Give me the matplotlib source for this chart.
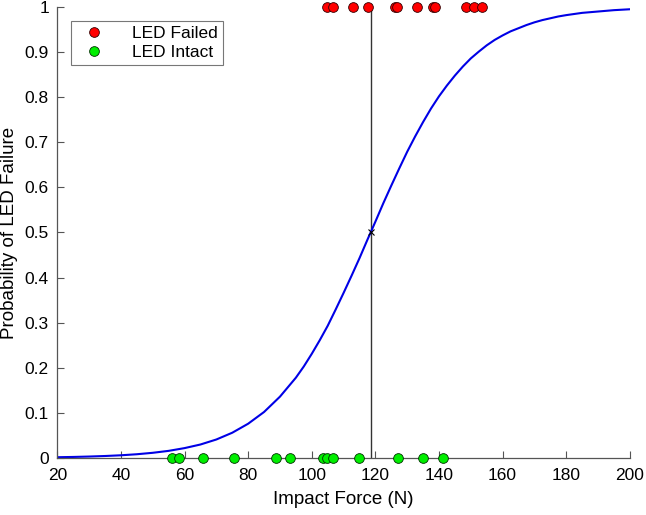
import matplotlib
matplotlib.use("Agg")
import matplotlib.pyplot as plt

# impact forces (N) of the tested LEDs
failed_force = [104.7, 106.8, 113.1, 117.8, 126.2, 126.9, 133.0, 138.0, 138.7, 148.5, 151.0, 153.5]
intact_force = [56.0, 58.3, 65.7, 75.6, 88.8, 93.2, 103.5, 104.7, 106.6, 114.7, 127.2, 135.1, 141.2]

# fitted probability curve
curve_force = [20, 25, 30, 35, 40, 45, 50, 55, 60, 65, 70, 75, 80, 85, 90, 95, 97.5,
               100, 102.5, 105, 107.5, 110, 112.5, 115, 117.5, 120, 122.5, 125, 127.5,
               130, 132.5, 135, 137.5, 140, 142.5, 145, 147.5, 150, 152.5, 155, 157.5,
               160, 162.5, 165, 167.5, 170, 172.5, 175, 177.5, 180, 185, 190, 195, 200]
curve_prob = [0.0017, 0.0023, 0.0032, 0.0044, 0.0060, 0.0083, 0.0115, 0.0158, 0.0219,
              0.0299, 0.041, 0.056, 0.076, 0.102, 0.136, 0.178, 0.203, 0.231, 0.261,
              0.293, 0.329, 0.366, 0.404, 0.443, 0.484, 0.524, 0.565, 0.604, 0.642,
              0.679, 0.713, 0.745, 0.775, 0.802, 0.826, 0.848, 0.868, 0.886, 0.901,
              0.915, 0.927, 0.937, 0.946, 0.953, 0.960, 0.966, 0.971, 0.975, 0.979,
              0.982, 0.987, 0.990, 0.993, 0.995]

# 50% failure force
f50 = 118.5
p50 = 0.5

yticks = [0, 0.1, 0.2, 0.3, 0.4, 0.5, 0.6, 0.7, 0.8, 0.9, 1]
ytick_labels = ["0", "0.1", "0.2", "0.3", "0.4", "0.5", "0.6", "0.7", "0.8", "0.9", "1"]
xticks = [20, 40, 60, 80, 100, 120, 140, 160, 180, 200]

plt.rcParams['font.family'] = ['Liberation Sans', 'DejaVu Sans']

fig = plt.figure(figsize=(6.46, 5.15), dpi=100)
ax = fig.add_axes([0.0887, 0.1107, 0.8863, 0.8757])

ax.plot(curve_force, curve_prob, color='#0000e6', lw=1.5, zorder=2)
ax.plot([f50, f50], [0, 1], color='#333333', lw=1.0, zorder=1)
ax.plot([f50], [p50], marker='x', color='black', ms=5, mew=0.8, zorder=3)

ax.plot(failed_force, [1] * len(failed_force), 'o', color='#ff0000', mec='#300000',
        mew=0.6, ms=7, label='LED Failed', clip_on=False, zorder=4)
ax.plot(intact_force, [0] * len(intact_force), 'o', color='#00ee00', mec='#003000',
        mew=0.6, ms=7, label='LED Intact', clip_on=False, zorder=4)

ax.set_xlim(20, 200)
ax.set_ylim(0, 1)
ax.set_xticks(xticks)
ax.set_yticks(yticks)
ax.set_yticklabels(ytick_labels)
ax.tick_params(direction='in', length=5, width=0.8, color='#555555', labelsize=12.5,
               labelcolor='black')
ax.tick_params(axis='x', pad=7)
ax.tick_params(axis='y', pad=6)
for s in ['top', 'right']:
    ax.spines[s].set_visible(False)
for s in ['left', 'bottom']:
    ax.spines[s].set_color('#555555')
    ax.spines[s].set_linewidth(0.9)

ax.set_xlabel('Impact Force (N)', fontsize=13.5, labelpad=6)
ax.set_ylabel('Probability of LED Failure', fontsize=13.5, labelpad=5)

leg = ax.legend(loc='upper left', bbox_to_anchor=(0.024, 0.969), fontsize=12.5,
                frameon=True, fancybox=False, edgecolor='#555555', handlelength=2.0,
                handletextpad=1.2, borderpad=0.3, labelspacing=0.2, borderaxespad=0)
leg.get_frame().set_linewidth(0.8)

fig.savefig('out.png', dpi=100)
